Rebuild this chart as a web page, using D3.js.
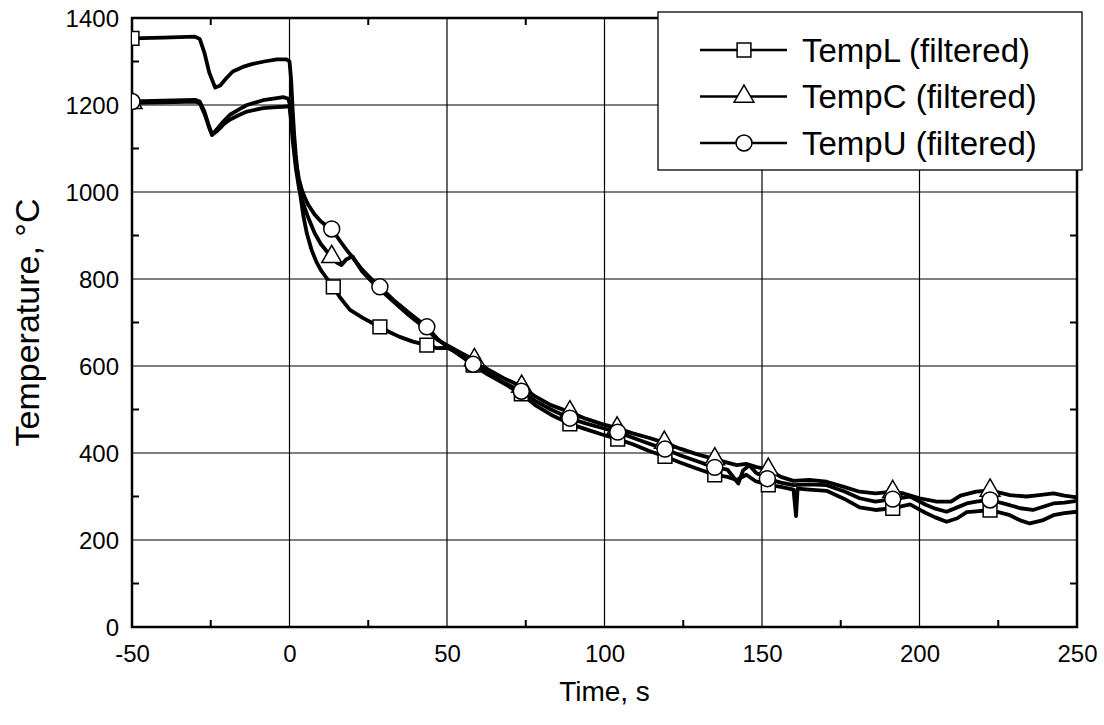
<!DOCTYPE html>
<html>
<head>
<meta charset="utf-8">
<script src="https://cdn.jsdelivr.net/npm/d3@7"></script>
<style>
  html, body { margin: 0; padding: 0; background: #fff; }
  svg { display: block; }
  text { font-family: "Liberation Sans", Arial, Helvetica, sans-serif; fill: #000; }
</style>
</head>
<body>
<svg id="chart" width="1104" height="725"></svg>
<script>
// ---------- DATA ----------
const seriesNames = ["TempL (filtered)", "TempC (filtered)", "TempU (filtered)"];
const xTicks = [-50, 0, 50, 100, 150, 200, 250];
const yTicks = [0, 200, 400, 600, 800, 1000, 1200, 1400];
const xMinorTicks = [-25, 25, 75, 125, 175, 225];
const yMinorTicks = [100, 300, 500, 700, 900, 1100, 1300];

const timeL = [-50,-40,-30,-28.5,-27,-25.5,-23.6,-22,-20,-18,-15,-12,-8,-4,-1,0,0.5,1,1.5,2,3,4.4,5.5,7,8.5,10,12,13.9,16,19.2,23.4,26,28.7,32,35,39.2,43.6,46.7,50,53,58.3,63,68,73.6,78,83,89,94,99,104.2,109,114,119.2,124,129,135,139,142,145,148,152,156,160,160.8,161.3,165,170.5,176,181,186,191.5,197,202,205,208.6,212,215,218,222.4,228.7,232,235,239,242.5,246,250];
const tempL = [1353,1355,1357,1352,1320,1275,1240,1245,1262,1277,1287,1294,1300,1305,1305,1300,1260,1190,1130,1085,1015,945,905,867,840,820,800,782,758,729,710,700,690,677,667,656,648,641,642,632,602,580,560,536,510,488,467,455,443,432,420,405,392,378,365,350,345,338,350,335,327,322,316,255,318,316,313,295,275,269,273,282,262,252,242,250,264,266,269,257,245,238,245,257,262,265];

const timeC = [-50,-40,-30,-28.5,-27,-25.5,-24.6,-23,-21,-19,-16,-13.5,-8.4,-4,-2,-0.5,0,0.5,1,2,3,4,5,6,8,10,12,13.4,15,16.5,18,20,23,26,28.7,33,38,43.6,47,50,54,58.7,63,68,73.7,78,83,89,94,99,104,109,114,119,124,129,135,139,142,145,148,152,156,160,165,170.5,176,181,186,191.5,195,200,205.5,210,213,218,222.4,228.7,234,238,242.5,246,250];
const tempC = [1205,1206,1208,1204,1180,1148,1131,1140,1155,1166,1177,1185,1193,1195,1196,1197,1195,1165,1120,1055,1010,982,960,940,905,880,862,851,838,832,845,852,818,795,776,748,716,684,660,648,632,614,592,572,553,530,510,494,479,467,457,445,435,424,410,398,386,378,372,375,368,362,345,336,338,334,322,311,307,311,307,296,288,288,302,311,314,303,300,303,307,302,298];

const timeU = [-50,-40,-30,-28.5,-27,-25.5,-24.6,-23,-21,-19,-16,-13.5,-8.4,-4,-2,-0.5,0,0.5,1,2,3,4,5,6,8,10,12,13.4,16,18,20,23,26,28.7,33,38,43.6,47,50,54,58.3,63,68,73.6,78,83,89,94,99,104.2,109,114,119.2,124,129,135,139,142.5,144,146,148,151.7,156,160,165,170.5,176,181,186,191.5,197,202,205,208.6,212,215,218,222.4,228.7,232,236,239,242.5,246,250];
const tempU = [1208,1210,1212,1208,1185,1150,1132,1145,1162,1177,1190,1200,1211,1216,1218,1215,1205,1175,1135,1070,1030,1003,985,970,948,932,921,915,888,868,850,822,800,782,752,722,690,662,645,625,604,584,562,542,520,500,480,468,458,448,435,422,409,395,382,367,362,330,360,372,355,341,332,326,328,326,312,296,288,294,300,281,272,265,275,284,288,292,280,273,269,276,284,286,290];

// marker positions (time, value)
const markTimeL = [-50,13.9,28.7,43.6,58.3,73.6,89,104.2,119.2,135,152,191.5,222.4];
const markValL  = [1353,782,690,648,602,536,467,432,392,350,327,273,269];
const markTimeC = [-50,13.4,58.7,73.7,89,104,119,135,152,191.5,222.4];
const markValC  = [1205,851,614,553,494,457,424,386,362,311,314];
const markTimeU = [-50,13.4,28.7,43.6,58.3,73.6,89,104.2,119.2,135,151.7,191.5,222.4];
const markValU  = [1208,915,782,690,604,542,480,448,409,367,341,294,292];

// ---------- LAYOUT ----------
const svg = d3.select("#chart");
const plot = { left: 132, right: 1077, top: 18, bottom: 627 };
const x = d3.scaleLinear().domain([-50, 250]).range([plot.left, plot.right]);
const y = d3.scaleLinear().domain([0, 1400]).range([plot.bottom, plot.top]);
const fontFam = '"Liberation Sans", Arial, sans-serif';

svg.append("defs").append("clipPath").attr("id", "clip")
  .append("rect").attr("x", plot.left).attr("y", plot.top)
  .attr("width", plot.right - plot.left).attr("height", plot.bottom - plot.top);

// grid lines
const grid = svg.append("g");
grid.selectAll(".vg").data(xTicks).join("line")
  .attr("x1", d => x(d)).attr("x2", d => x(d))
  .attr("y1", plot.top).attr("y2", plot.bottom)
  .attr("stroke", "#000").attr("stroke-width", 1.2);
grid.selectAll(".hg").data(yTicks).join("line")
  .attr("y1", d => y(d)).attr("y2", d => y(d))
  .attr("x1", plot.left).attr("x2", plot.right)
  .attr("stroke", "#000").attr("stroke-width", 1.2);

// minor ticks (inward, on all sides)
const tickLen = 7;
const mt = svg.append("g").attr("stroke", "#000").attr("stroke-width", 2);
xMinorTicks.forEach(t => {
  mt.append("line").attr("x1", x(t)).attr("x2", x(t)).attr("y1", plot.bottom).attr("y2", plot.bottom - tickLen);
  mt.append("line").attr("x1", x(t)).attr("x2", x(t)).attr("y1", plot.top).attr("y2", plot.top + tickLen);
});
yMinorTicks.forEach(t => {
  mt.append("line").attr("y1", y(t)).attr("y2", y(t)).attr("x1", plot.left).attr("x2", plot.left + tickLen);
  mt.append("line").attr("y1", y(t)).attr("y2", y(t)).attr("x1", plot.right).attr("x2", plot.right - tickLen);
});

// axes (labels via d3 axes)
const xAxis = d3.axisBottom(x).tickValues(xTicks).tickSize(0).tickPadding(0).tickFormat(d => String(d));
const gx = svg.append("g").attr("transform", `translate(0,${plot.bottom})`).call(xAxis);
gx.attr("font-size", null).attr("font-family", null);
gx.select(".domain").remove();
gx.selectAll("text").attr("font-size", 24).attr("dy", null).attr("y", 35)
  .style("font-family", fontFam);

const yAxis = d3.axisLeft(y).tickValues(yTicks).tickSize(0).tickPadding(0).tickFormat(d => String(d));
const gy = svg.append("g").attr("transform", `translate(${plot.left},0)`).call(yAxis);
gy.attr("font-size", null).attr("font-family", null);
gy.select(".domain").remove();
gy.selectAll("text").attr("font-size", 24).attr("x", -13).attr("dy", "0.36em")
  .style("font-family", fontFam);

// frame
svg.append("rect").attr("x", plot.left).attr("y", plot.top)
  .attr("width", plot.right - plot.left).attr("height", plot.bottom - plot.top)
  .attr("fill", "none").attr("stroke", "#000").attr("stroke-width", 2.5);

// series
const series = [
  { name: seriesNames[0], t: timeL, v: tempL, mt: markTimeL, mv: markValL, shape: "square" },
  { name: seriesNames[1], t: timeC, v: tempC, mt: markTimeC, mv: markValC, shape: "triangle" },
  { name: seriesNames[2], t: timeU, v: tempU, mt: markTimeU, mv: markValU, shape: "circle" }
];
const line = d3.line().x(d => x(d[0])).y(d => y(d[1])).curve(d3.curveLinear);
const lines = svg.append("g").attr("clip-path", "url(#clip)");
series.forEach(s => {
  lines.append("path").datum(s.t.map((t, i) => [t, s.v[i]]))
    .attr("d", line).attr("fill", "none").attr("stroke", "#000")
    .attr("stroke-width", 3.8).attr("stroke-linejoin", "round");
});

const symType = { square: d3.symbolSquare, triangle: d3.symbolTriangle, circle: d3.symbolCircle };
const symSize = { square: 190, triangle: 170, circle: 200 };
function drawMarker(g, shape, cx, cy) {
  g.append("path").attr("d", d3.symbol().type(symType[shape]).size(symSize[shape])())
    .attr("transform", `translate(${cx},${cy})`)
    .attr("fill", "#fff").attr("stroke", "#000").attr("stroke-width", 1.5);
}
const marks = svg.append("g").attr("clip-path", "url(#clip)");
series.forEach(s => {
  s.mt.forEach((t, i) => drawMarker(marks, s.shape, x(t), y(s.mv[i])));
});

// legend
const lg = svg.append("g");
lg.append("rect").attr("x", 658).attr("y", 12).attr("width", 424).attr("height", 158)
  .attr("fill", "#fff").attr("stroke", "#000").attr("stroke-width", 1.3);
series.forEach((s, i) => {
  const cy = 50 + i * 46.5;
  lg.append("line").attr("x1", 700).attr("x2", 787).attr("y1", cy).attr("y2", cy)
    .attr("stroke", "#000").attr("stroke-width", 2.5);
  drawMarker(lg, s.shape, 744, cy);
  lg.append("text").attr("x", 802).attr("y", cy).attr("dy", "0.36em")
    .attr("font-size", 33).text(s.name);
});

// axis titles
svg.append("text").attr("x", (plot.left + plot.right) / 2).attr("y", 701)
  .attr("text-anchor", "middle").attr("font-size", 28).text("Time, s");
svg.append("text").attr("transform", `translate(39,${(plot.top + plot.bottom) / 2}) rotate(-90)`)
  .attr("text-anchor", "middle").attr("font-size", 34).text("Temperature, °C");
</script>
</body>
</html>
